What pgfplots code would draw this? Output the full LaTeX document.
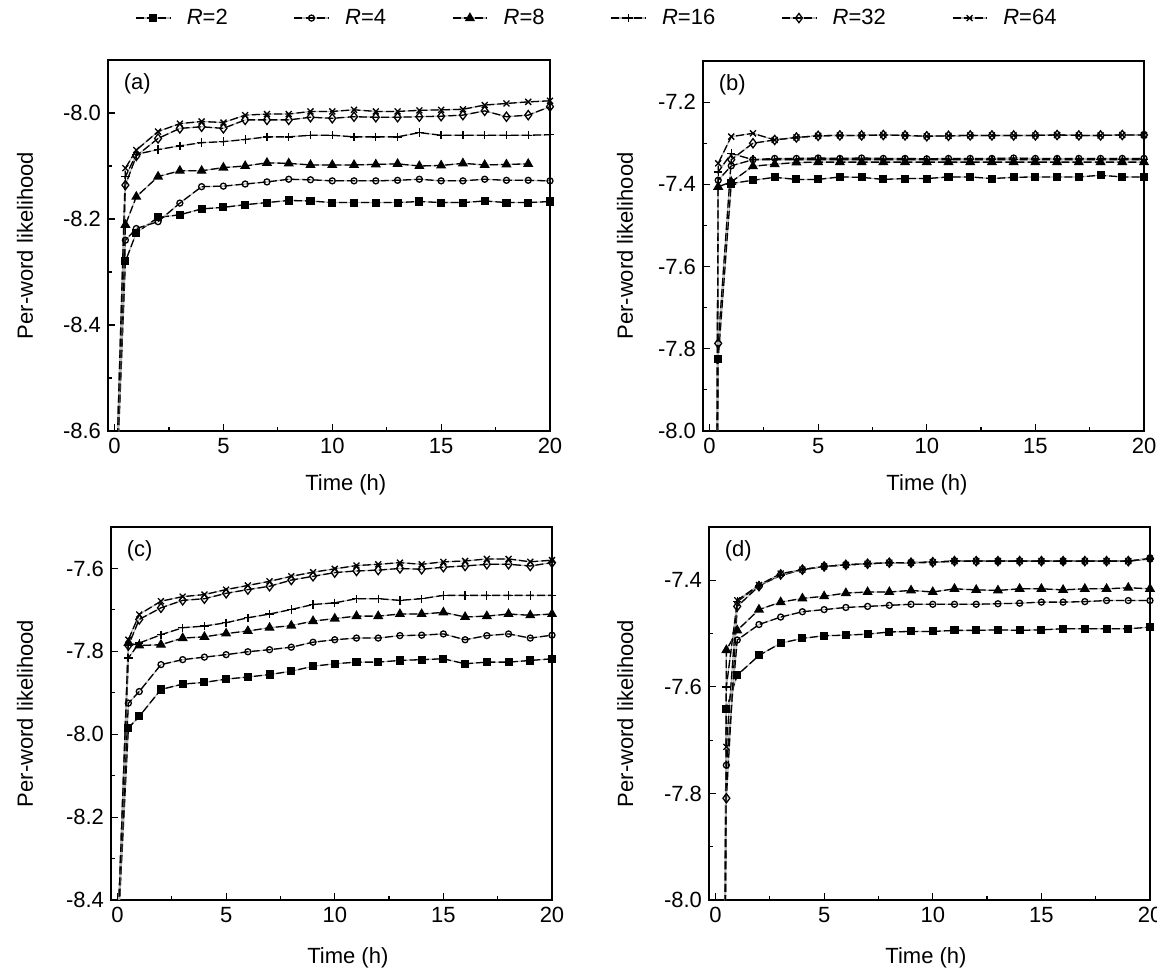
\documentclass[border=0pt]{standalone}
\usepackage{fontspec}
\setmainfont{Liberation Sans}
\usepackage{pgfplots}
\pgfplotsset{compat=1.18}
\pgfplotsset{
  ln/.style={black, line width=0.65pt, dash pattern=on 4pt off 1.6pt,
    preaction={draw=gray!55, solid, line width=0.6pt}},
  s2/.style={ln, mark=square*, mark size=1.7pt, mark options={solid, fill=black}},
  s4/.style={ln, mark=o, mark size=1.5pt, mark options={solid, fill=white}},
  s8/.style={ln, mark=triangle*, mark size=2.3pt, mark options={solid, fill=black}},
  s16/.style={ln, mark=+, mark size=2.1pt, mark options={solid}},
  s32/.style={ln, mark=diamond, mark size=2.3pt, mark options={solid, fill=white}},
  s64/.style={ln, mark=x, mark size=2.1pt, mark options={solid}},
  myax/.style={scale only axis, anchor=north west,
    xmin=-0.3, xmax=20, xtick={0,5,10,15,20},
    minor x tick num=1, minor y tick num=1,
    tick align=inside, tick pos=left,
    major tick length=3.5pt, minor tick length=2pt,
    every tick/.style={black, line width=0.6pt},
    axis line style={line width=0.8pt},
    yticklabel style={/pgf/number format/.cd, fixed, fixed zerofill, precision=1, assume math mode=true},
    xticklabel style={/pgf/number format/assume math mode=true},
    xlabel={Time (h)}, ylabel={Per-word likelihood},
    clip=true},
}
\begin{document}
\begin{tikzpicture}[font=\fontsize{11}{13}\selectfont]
\useasboundingbox (0,0) rectangle (578.5pt,-485pt);
% (a)
\begin{axis}[myax, at={(54pt,-30pt)}, width=221pt, height=185.5pt,
  ymin=-8.6, ymax=-7.9, ytick={-8.6,-8.4,-8.2,-8.0},
  xlabel style={at={(axis description cs:0.538,-0.146)}, anchor=center},
  ylabel style={at={(axis description cs:-0.188,0.5)}, anchor=center},
  legend columns=6,
  legend style={draw=none, fill=none, at={(0.061,1.113)}, anchor=west, inner sep=0pt,
    /tikz/every odd column/.append style={column sep=6pt},
    /tikz/every even column/.append style={column sep=31pt}},
]
\addplot[s2] coordinates {(0,-8.8) (0.5,-8.28) (1,-8.226) (2,-8.197) (3,-8.192) (4,-8.181) (5,-8.178) (6,-8.173) (7,-8.169) (8,-8.165) (9,-8.166) (10,-8.169) (11,-8.169) (12,-8.169) (13,-8.169) (14,-8.167) (15,-8.169) (16,-8.169) (17,-8.166) (18,-8.169) (19,-8.169) (20,-8.167)};
\addlegendentry{\textit{R}=2}
\addplot[s4] coordinates {(0,-8.8) (0.5,-8.24) (1,-8.218) (2,-8.205) (3,-8.17) (4,-8.139) (5,-8.138) (6,-8.134) (7,-8.13) (8,-8.125) (9,-8.126) (10,-8.128) (11,-8.128) (12,-8.128) (13,-8.127) (14,-8.125) (15,-8.128) (16,-8.128) (17,-8.125) (18,-8.127) (19,-8.127) (20,-8.128)};
\addlegendentry{\textit{R}=4}
\addplot[s8] coordinates {(0,-8.8) (0.5,-8.211) (1,-8.158) (2,-8.12) (3,-8.109) (4,-8.109) (5,-8.103) (6,-8.1) (7,-8.094) (8,-8.095) (9,-8.098) (10,-8.098) (11,-8.098) (12,-8.097) (13,-8.096) (14,-8.1) (15,-8.099) (16,-8.095) (17,-8.098) (18,-8.097) (19,-8.096)};
\addlegendentry{\textit{R}=8}
\addplot[s16] coordinates {(0,-8.8) (0.5,-8.12) (1,-8.078) (2,-8.069) (3,-8.062) (4,-8.056) (5,-8.054) (6,-8.05) (7,-8.045) (8,-8.045) (9,-8.042) (10,-8.042) (11,-8.045) (12,-8.045) (13,-8.045) (14,-8.037) (15,-8.042) (16,-8.042) (17,-8.042) (18,-8.042) (19,-8.042) (20,-8.041)};
\addlegendentry{\textit{R}=16}
\addplot[s32] coordinates {(0,-8.8) (0.5,-8.136) (1,-8.081) (2,-8.048) (3,-8.029) (4,-8.026) (5,-8.029) (6,-8.013) (7,-8.013) (8,-8.013) (9,-8.008) (10,-8.01) (11,-8.007) (12,-8.008) (13,-8.008) (14,-8.007) (15,-8.006) (16,-8.004) (17,-7.996) (18,-8.007) (19,-8.004) (20,-7.988)};
\addlegendentry{\textit{R}=32}
\addplot[s64] coordinates {(0,-8.8) (0.5,-8.104) (1,-8.07) (2,-8.035) (3,-8.02) (4,-8.016) (5,-8.018) (6,-8.004) (7,-8.002) (8,-8.002) (9,-7.997) (10,-7.997) (11,-7.994) (12,-7.997) (13,-7.997) (14,-7.995) (15,-7.994) (16,-7.993) (17,-7.985) (18,-7.982) (19,-7.979) (20,-7.977)};
\addlegendentry{\textit{R}=64}
\node[anchor=north west, inner sep=0pt] at (rel axis cs:0.035,0.965) {(a)};
\end{axis}
% (b)
\begin{axis}[myax, at={(351.5pt,-30.5pt)}, width=220.5pt, height=185pt,
  ymin=-8.0, ymax=-7.1, ytick={-8.0,-7.8,-7.6,-7.4,-7.2},
  xlabel style={at={(axis description cs:0.508,-0.146)}, anchor=center},
  ylabel style={at={(axis description cs:-0.177,0.5)}, anchor=center},
]
\addplot[s2] coordinates {(0.3,-8.6) (0.4,-7.824) (1,-7.398) (2,-7.39) (3,-7.383) (4,-7.388) (5,-7.388) (6,-7.382) (7,-7.383) (8,-7.388) (9,-7.386) (10,-7.386) (11,-7.382) (12,-7.382) (13,-7.386) (14,-7.383) (15,-7.382) (16,-7.382) (17,-7.382) (18,-7.378) (19,-7.382) (20,-7.382)};
\addplot[s4] coordinates {(0.3,-8.6) (0.4,-7.39) (1,-7.355) (2,-7.34) (3,-7.337) (4,-7.337) (5,-7.336) (6,-7.337) (7,-7.336) (8,-7.337) (9,-7.337) (10,-7.338) (11,-7.337) (12,-7.337) (13,-7.337) (14,-7.336) (15,-7.337) (16,-7.337) (17,-7.337) (18,-7.337) (19,-7.337) (20,-7.337)};
\addplot[s8] coordinates {(0.3,-8.6) (0.4,-7.406) (1,-7.394) (2,-7.356) (3,-7.351) (4,-7.347) (5,-7.346) (6,-7.346) (7,-7.346) (8,-7.346) (9,-7.346) (10,-7.346) (11,-7.346) (12,-7.346) (13,-7.346) (14,-7.346) (15,-7.346) (16,-7.346) (17,-7.346) (18,-7.346) (19,-7.346) (20,-7.346)};
\addplot[s16] coordinates {(0.3,-8.6) (0.4,-7.37) (1,-7.325) (2,-7.34) (3,-7.34) (4,-7.34) (5,-7.34) (6,-7.34) (7,-7.34) (8,-7.34) (9,-7.34) (10,-7.34) (11,-7.34) (12,-7.34) (13,-7.34) (14,-7.34) (15,-7.34) (16,-7.34) (17,-7.34) (18,-7.34) (19,-7.34) (20,-7.34)};
\addplot[s32] coordinates {(0.3,-8.6) (0.4,-7.787) (1,-7.34) (2,-7.30) (3,-7.292) (4,-7.286) (5,-7.282) (6,-7.281) (7,-7.281) (8,-7.28) (9,-7.281) (10,-7.283) (11,-7.282) (12,-7.281) (13,-7.281) (14,-7.281) (15,-7.281) (16,-7.28) (17,-7.281) (18,-7.281) (19,-7.28) (20,-7.28)};
\addplot[s64] coordinates {(0.3,-8.6) (0.4,-7.349) (1,-7.284) (2,-7.276) (3,-7.292) (4,-7.286) (5,-7.282) (6,-7.281) (7,-7.281) (8,-7.28) (9,-7.281) (10,-7.283) (11,-7.282) (12,-7.281) (13,-7.281) (14,-7.281) (15,-7.281) (16,-7.28) (17,-7.281) (18,-7.281) (19,-7.28) (20,-7.28)};
\node[anchor=north west, inner sep=0pt] at (rel axis cs:0.035,0.965) {(b)};
\end{axis}
% (c)
\begin{axis}[myax, at={(55.5pt,-263.5pt)}, width=220.5pt, height=186.5pt,
  ymin=-8.4, ymax=-7.5, ytick={-8.4,-8.2,-8.0,-7.8,-7.6},
  xlabel style={at={(axis description cs:0.537,-0.155)}, anchor=center},
  ylabel style={at={(axis description cs:-0.195,0.5)}, anchor=center},
]
\addplot[s2] coordinates {(0,-8.5) (0.5,-7.985) (1,-7.957) (2,-7.892) (3,-7.879) (4,-7.875) (5,-7.867) (6,-7.862) (7,-7.856) (8,-7.848) (9,-7.836) (10,-7.83) (11,-7.826) (12,-7.826) (13,-7.822) (14,-7.82) (15,-7.818) (16,-7.83) (17,-7.826) (18,-7.826) (19,-7.822) (20,-7.818)};
\addplot[s4] coordinates {(0,-8.5) (0.5,-7.925) (1,-7.897) (2,-7.832) (3,-7.82) (4,-7.814) (5,-7.808) (6,-7.801) (7,-7.796) (8,-7.79) (9,-7.778) (10,-7.772) (11,-7.768) (12,-7.768) (13,-7.762) (14,-7.761) (15,-7.758) (16,-7.772) (17,-7.762) (18,-7.758) (19,-7.768) (20,-7.761)};
\addplot[s8] coordinates {(0,-8.5) (0.5,-7.78) (1,-7.786) (2,-7.784) (3,-7.768) (4,-7.765) (5,-7.757) (6,-7.751) (7,-7.743) (8,-7.738) (9,-7.727) (10,-7.721) (11,-7.715) (12,-7.715) (13,-7.71) (14,-7.71) (15,-7.706) (16,-7.717) (17,-7.715) (18,-7.71) (19,-7.713) (20,-7.71)};
\addplot[s16] coordinates {(0,-8.5) (0.5,-7.816) (1,-7.78) (2,-7.76) (3,-7.743) (4,-7.739) (5,-7.731) (6,-7.719) (7,-7.71) (8,-7.699) (9,-7.687) (10,-7.683) (11,-7.673) (12,-7.673) (13,-7.677) (14,-7.673) (15,-7.665) (16,-7.665) (17,-7.665) (18,-7.665) (19,-7.665) (20,-7.665)};
\addplot[s32] coordinates {(0,-8.5) (0.5,-7.786) (1,-7.723) (2,-7.695) (3,-7.677) (4,-7.673) (5,-7.66) (6,-7.651) (7,-7.643) (8,-7.628) (9,-7.619) (10,-7.61) (11,-7.606) (12,-7.604) (13,-7.6) (14,-7.602) (15,-7.597) (16,-7.594) (17,-7.59) (18,-7.59) (19,-7.594) (20,-7.586)};
\addplot[s64] coordinates {(0,-8.5) (0.5,-7.772) (1,-7.711) (2,-7.679) (3,-7.668) (4,-7.663) (5,-7.651) (6,-7.641) (7,-7.631) (8,-7.619) (9,-7.609) (10,-7.601) (11,-7.593) (12,-7.59) (13,-7.586) (14,-7.59) (15,-7.584) (16,-7.582) (17,-7.577) (18,-7.577) (19,-7.584) (20,-7.58)};
\node[anchor=north west, inner sep=0pt] at (rel axis cs:0.035,0.965) {(c)};
\end{axis}
% (d)
\begin{axis}[myax, at={(354.5pt,-263.5pt)}, width=220.5pt, height=186.5pt,
  ymin=-8.0, ymax=-7.3, ytick={-8.0,-7.8,-7.6,-7.4},
  xlabel style={at={(axis description cs:0.492,-0.155)}, anchor=center},
  ylabel style={at={(axis description cs:-0.19,0.5)}, anchor=center},
]
\addplot[s2] coordinates {(0.4,-8.3) (0.5,-7.641) (1,-7.578) (2,-7.541) (3,-7.518) (4,-7.509) (5,-7.504) (6,-7.503) (7,-7.501) (8,-7.497) (9,-7.496) (10,-7.496) (11,-7.494) (12,-7.494) (13,-7.493) (14,-7.494) (15,-7.493) (16,-7.491) (17,-7.491) (18,-7.491) (19,-7.491) (20,-7.488)};
\addplot[s4] coordinates {(0.4,-8.3) (0.5,-7.747) (1,-7.512) (2,-7.483) (3,-7.469) (4,-7.459) (5,-7.455) (6,-7.451) (7,-7.449) (8,-7.447) (9,-7.445) (10,-7.445) (11,-7.445) (12,-7.445) (13,-7.444) (14,-7.443) (15,-7.441) (16,-7.441) (17,-7.44) (18,-7.438) (19,-7.438) (20,-7.438)};
\addplot[s8] coordinates {(0.4,-8.3) (0.5,-7.531) (1,-7.494) (2,-7.455) (3,-7.441) (4,-7.434) (5,-7.43) (6,-7.424) (7,-7.422) (8,-7.422) (9,-7.419) (10,-7.422) (11,-7.416) (12,-7.418) (13,-7.419) (14,-7.416) (15,-7.416) (16,-7.418) (17,-7.416) (18,-7.416) (19,-7.414) (20,-7.416)};
\addplot[s16] coordinates {(0.4,-8.3) (0.5,-7.60) (1,-7.44) (2,-7.41) (3,-7.391) (4,-7.38) (5,-7.374) (6,-7.371) (7,-7.369) (8,-7.367) (9,-7.367) (10,-7.366) (11,-7.364) (12,-7.364) (13,-7.364) (14,-7.364) (15,-7.364) (16,-7.364) (17,-7.364) (18,-7.364) (19,-7.364) (20,-7.36)};
\addplot[s32] coordinates {(0.4,-8.3) (0.5,-7.809) (1,-7.449) (2,-7.411) (3,-7.389) (4,-7.38) (5,-7.374) (6,-7.371) (7,-7.369) (8,-7.367) (9,-7.367) (10,-7.366) (11,-7.364) (12,-7.364) (13,-7.364) (14,-7.364) (15,-7.364) (16,-7.364) (17,-7.364) (18,-7.364) (19,-7.364) (20,-7.359)};
\addplot[s64] coordinates {(0.4,-8.3) (0.5,-7.7125) (1,-7.4375) (2,-7.409) (3,-7.3875) (4,-7.38) (5,-7.374) (6,-7.371) (7,-7.369) (8,-7.367) (9,-7.367) (10,-7.366) (11,-7.364) (12,-7.364) (13,-7.364) (14,-7.364) (15,-7.364) (16,-7.364) (17,-7.364) (18,-7.364) (19,-7.364) (20,-7.359)};
\node[anchor=north west, inner sep=0pt] at (rel axis cs:0.035,0.965) {(d)};
\end{axis}
\end{tikzpicture}
\end{document}
